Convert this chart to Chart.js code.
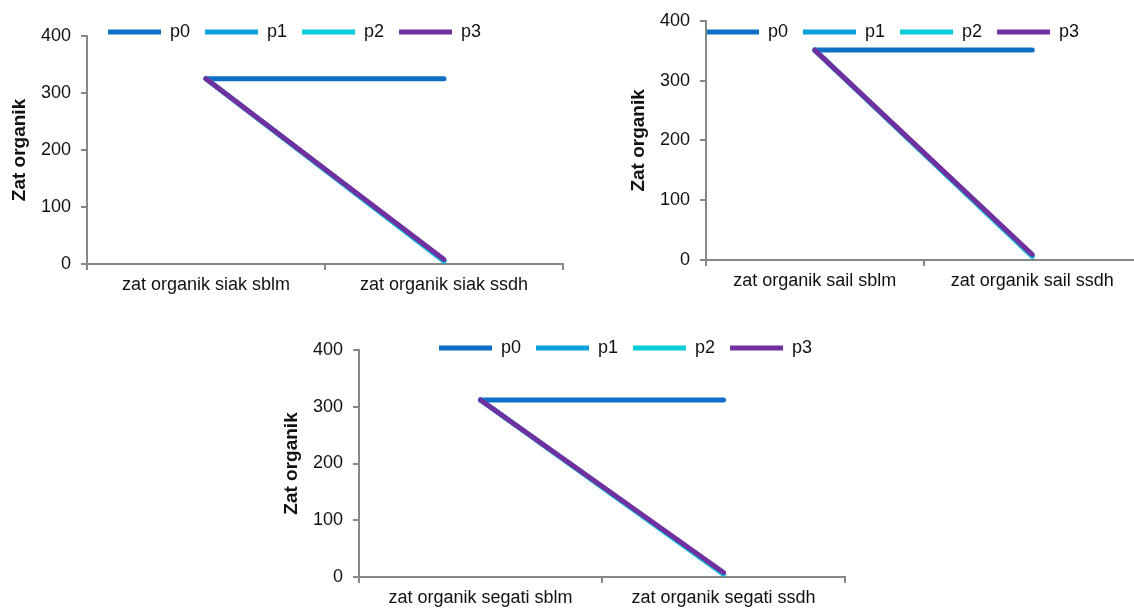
<!DOCTYPE html>
<html>
<head>
<meta charset="utf-8">
<script src="https://cdn.jsdelivr.net/npm/chart.js@4.4.0/dist/chart.umd.min.js"></script>
<style>
  html, body { margin: 0; padding: 0; background: #fff; }
  body { width: 1134px; height: 615px; position: relative; overflow: hidden; }
  .box { position: absolute; }
</style>
</head>
<body>
<div class="box" id="box1" style="left:0px;top:0px;width:580px;height:305px;"><canvas id="chart1"></canvas></div>
<div class="box" id="box2" style="left:619px;top:0px;width:540px;height:300px;"><canvas id="chart2"></canvas></div>
<div class="box" id="box3" style="left:272px;top:314px;width:590px;height:301px;"><canvas id="chart3"></canvas></div>

<script>
// --- DATA ---
const seriesNames = ['p0', 'p1', 'p2', 'p3'];
const seriesColors = ['#0E6EC6', '#0AA0DC', '#0ACDDA', '#7030A0'];
const yTicks = [0, 100, 200, 300, 400];

const siakLabels = ['zat organik siak sblm', 'zat organik siak ssdh'];
const siakP0 = [325, 325];
const siakP1 = [325, 5];
const siakP2 = [325, 6];
const siakP3 = [325, 8];

const sailLabels = ['zat organik sail sblm', 'zat organik sail ssdh'];
const sailP0 = [351, 351];
const sailP1 = [351, 6];
const sailP2 = [351, 7];
const sailP3 = [351, 9];

const segatiLabels = ['zat organik segati sblm', 'zat organik segati ssdh'];
const segatiP0 = [312, 312];
const segatiP1 = [312, 5];
const segatiP2 = [312, 6];
const segatiP3 = [312, 8];

const FONT = "'Liberation Sans', Arial, sans-serif";
const AXIS_COLOR = '#878787';

// the legend sits over the top of the plot, so move it there after layout
const legendShift = {
    id: 'legendShift',
    afterLayout(chart, args, opts) {
        const lg = chart.legend;
        if (!lg) return;
        const pad = lg.options.labels.padding;
        const w = lg.right - lg.left;
        lg.left = opts.x - pad;
        lg.right = lg.left + w;
        lg.top = opts.y - pad - 9;
        lg.bottom = lg.top + 80;
    }
};

function makeChart(id, labels, values, cfg) {
    const datasets = values.map((vals, i) => ({
        label: seriesNames[i],
        data: vals,
        borderColor: seriesColors[i],
        backgroundColor: seriesColors[i],
        borderWidth: 5,
        borderCapStyle: 'round',
        borderJoinStyle: 'round',
        pointRadius: 0,
        pointStyle: 'line',
        tension: 0,
        order: values.length - 1 - i   // p3 drawn on top
    }));

    return new Chart(document.getElementById(id), {
        type: 'line',
        data: { labels: labels, datasets: datasets },
        plugins: [legendShift],
        options: {
            responsive: true,
            maintainAspectRatio: false,
            animation: false,
            layout: { padding: { top: cfg.padTop, right: cfg.padRight, bottom: 0, left: 0 } },
            plugins: {
                legend: {
                    position: 'top',
                    align: 'start',
                    maxHeight: 0.001,
                    labels: {
                        usePointStyle: true,
                        pointStyleWidth: 53,
                        padding: 15,
                        color: '#111',
                        font: { family: FONT, size: 18 },
                        sort: (a, b) => a.datasetIndex - b.datasetIndex
                    }
                },
                legendShift: { x: cfg.legendX, y: cfg.legendY },
                tooltip: { enabled: false }
            },
            scales: {
                x: {
                    offset: true,
                    afterFit: (scale) => { scale.height = cfg.xHeight; },
                    grid: { offset: true, drawOnChartArea: false, tickLength: 6, color: AXIS_COLOR, lineWidth: 2 },
                    border: { color: AXIS_COLOR, width: 2 },
                    ticks: { color: '#111', padding: 4, maxRotation: 0, font: { family: FONT, size: 18 } }
                },
                y: {
                    min: 0,
                    max: 400,
                    afterFit: (scale) => { scale.width = 87; },
                    afterBuildTicks: (scale) => { scale.ticks = yTicks.map(v => ({ value: v })); },
                    grid: { drawOnChartArea: false, tickLength: 6, color: AXIS_COLOR, lineWidth: 2 },
                    border: { color: AXIS_COLOR, width: 2 },
                    ticks: { color: '#111', padding: 10, font: { family: FONT, size: 18 } },
                    title: {
                        display: true,
                        text: 'Zat organik',
                        color: '#111',
                        padding: { top: 8, bottom: 0 },
                        font: { family: FONT, size: 19, weight: 'bold' }
                    }
                }
            }
        }
    });
}

makeChart('chart1', siakLabels, [siakP0, siakP1, siakP2, siakP3],
    { padTop: 36, padRight: 17, xHeight: 41, legendX: 108, legendY: 32 });
makeChart('chart2', sailLabels, [sailP0, sailP1, sailP2, sailP3],
    { padTop: 17, padRight: 18, xHeight: 40, legendX: 87, legendY: 32 });
makeChart('chart3', segatiLabels, [segatiP0, segatiP1, segatiP2, segatiP3],
    { padTop: 36, padRight: 17, xHeight: 38, legendX: 167, legendY: 34 });
</script>
</body>
</html>
